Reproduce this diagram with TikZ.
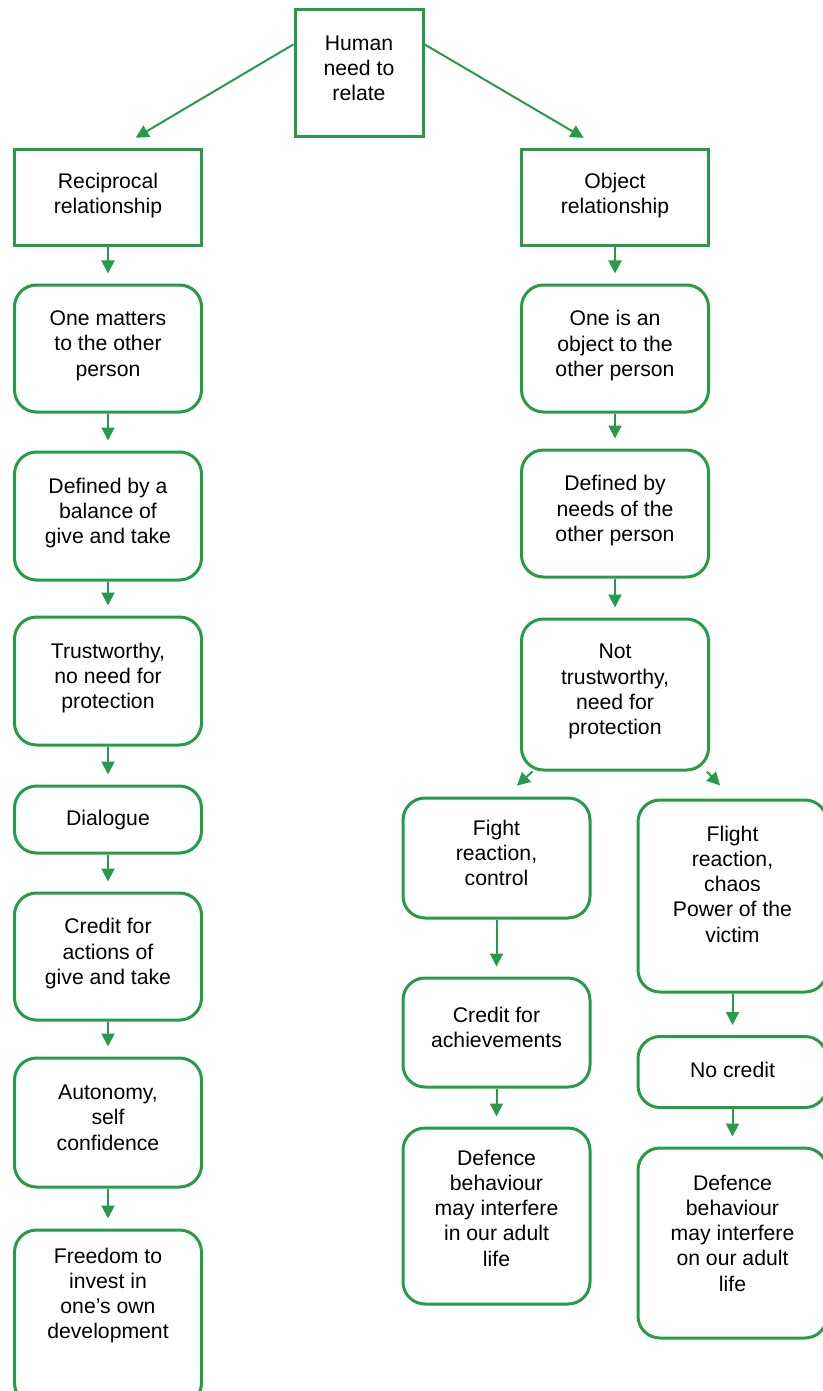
\documentclass[tikz,border=0pt]{standalone}
\usepackage{fontspec}
\setmainfont{Liberation Sans}
\usepackage{tikz}
\usetikzlibrary{arrows.meta, positioning}
\definecolor{relgreen}{RGB}{38,156,74}

\begin{document}
\begin{tikzpicture}[x=0.5pt, y=-0.5pt,
            box/.style = {draw=relgreen, line width=1.5pt, rounded corners=11pt, align=center,
              inner sep=2pt, minimum width=93.5pt, font=\fontsize{10.6pt}{12.6pt}\selectfont, text depth=5pt},
            arr/.style = {draw=relgreen, line width=1pt, -{Triangle[length=6.5pt, width=6.5pt]}, shorten >=5pt}]
            \clip (0,0) rectangle (823,1391);
            \node (top) [box, sharp corners, minimum width=64pt, minimum height=63.5pt] at (359,73.5) {Human\\need to\\relate};
            \node (rec) [box, sharp corners, minimum height=48pt] at (108,198) {Reciprocal\\relationship};
            \node (obj) [box, sharp corners, minimum height=48pt] at (615,198) {Object\\relationship};
            \node (l1) [box, minimum height=63.5pt] at (108,348.5) {One matters\\to the other\\person};
            \node (l2) [box, minimum height=64pt] at (108,516) {Defined by a\\balance of\\give and take};
            \node (l3) [box, minimum height=64pt] at (108,681) {Trustworthy,\\no need for\\protection};
            \node (l4) [box, minimum height=33.5pt, text depth=2pt] at (108,819.5) {Dialogue};
            \node (l5) [box, minimum height=63.5pt] at (108,956.5) {Credit for\\actions of\\give and take};
            \node (l6) [box, minimum height=64.5pt] at (108,1122.5) {Autonomy,\\self\\confidence};
            \node (l7) [box, minimum height=87.5pt, text depth=24pt] at (108,1317.5) {Freedom to\\invest in\\one’s own\\development};
            \node (r1) [box, minimum height=63.5pt] at (615,348.5) {One is an\\object to the\\other person};
            \node (r2) [box, minimum height=63.5pt] at (615,513.5) {Defined by\\needs of the\\other person};
            \node (r3) [box, minimum height=75.5pt] at (615,694.5) {Not\\trustworthy,\\need for\\protection};
            \node (fight) [box, minimum height=60pt] at (496.5,858) {Fight\\reaction,\\control};
            \node (fcred) [box, minimum height=54.5pt] at (496.5,1032.5) {Credit for\\achievements};
            \node (fdef) [box, minimum height=88pt, text depth=8pt] at (496.5,1216) {Defence\\behaviour\\may interfere\\in our adult\\life};
            \node (flight) [box, minimum width=94.5pt, minimum height=96pt, text depth=12pt] at (732.5,896) {Flight\\reaction,\\chaos\\Power of the\\victim};
            \node (ncred) [box, minimum width=94.5pt, minimum height=35.5pt, text depth=2pt] at (732.5,1072) {No credit};
            \node (ndef) [box, minimum width=94.5pt, minimum height=95pt, text depth=10pt] at (732.5,1243) {Defence\\behaviour\\may interfere\\on our adult\\life};
            \draw[arr, shorten >=10.5pt] (top.156) -- (rec.79);
            \draw[arr, shorten >=10.5pt] (top.24) -- (obj.105);
            \foreach \a/\b in {rec/l1, l1/l2, l2/l3, l3/l4, l4/l5, l5/l6, l6/l7,
                               obj/r1, r1/r2, r2/r3, fight/fcred, fcred/fdef, flight/ncred, ncred/ndef}
              \draw[arr] (\a) -- (\b);
            \draw[arr, shorten >=8pt] (r3.223) -- (fight.82);
            \draw[arr, shorten >=9pt] (r3.320) -- (flight.north);
\end{tikzpicture}
\end{document}
